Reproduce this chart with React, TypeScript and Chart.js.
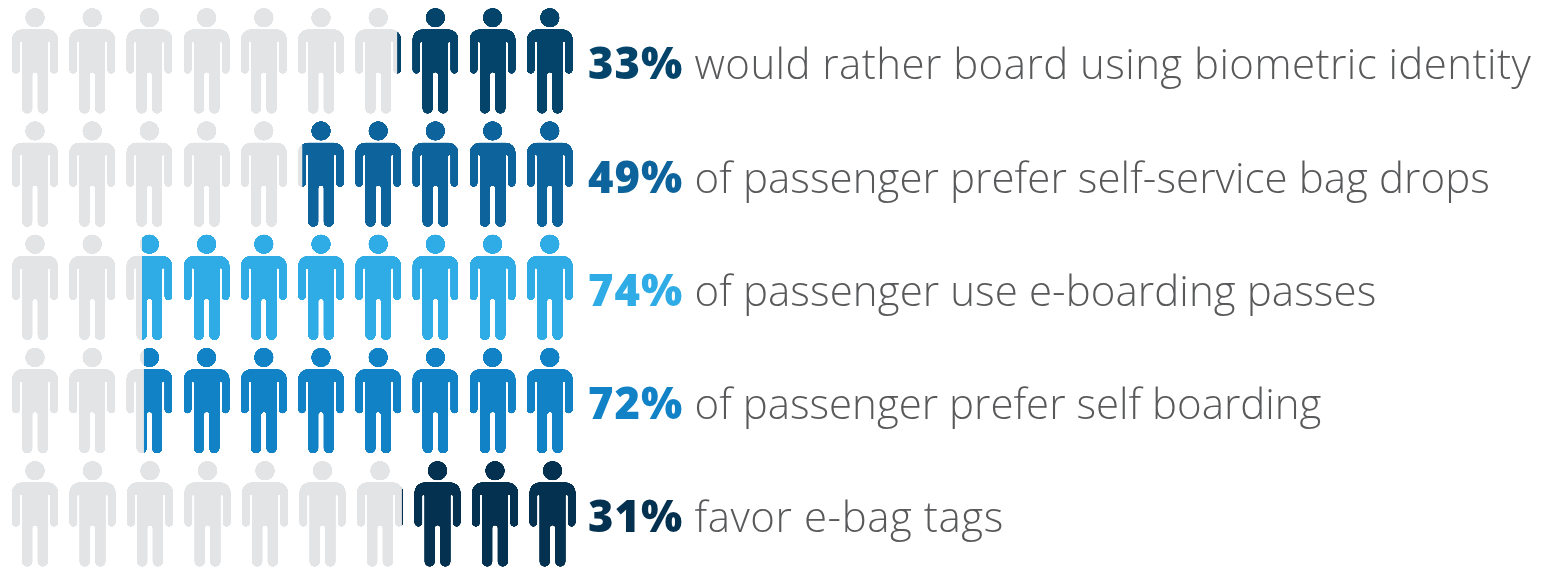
import React, { useEffect, useRef } from "react";
import { Chart, registerables } from "chart.js";

Chart.register(...registerables);

const percentLabels = ["33%", "49%", "74%", "72%", "31%"];
const captions = [
  "would rather board using biometric identity",
  "of passenger prefer self-service bag drops",
  "of passenger use e-boarding passes",
  "of passenger prefer self boarding",
  "favor e-bag tags",
];
const rows = [0, 1, 2, 3, 4];
// Width of the coloured part of each row of ten figures, in figures.
const filledFigures = [3.17, 4.83, 7.63, 7.6, 3.09];
const figureCount = 10;
const rowColors = ["#04446b", "#0d639b", "#2fabe5", "#1282c7", "#04314f"];
const emptyColor = "#e3e4e6";
const captionColor = "#58595b";

const PITCH_X = 57.2;
const PITCH_Y = 113.25;
const ORIGIN_X = 6.4;
const ORIGIN_Y = 61.5;
const W = 1545;
const H = 568;
const rowPitchX = [57.2, 57.2, 57.2, 57.2, 57.5];
const captionTracking = [0.44, 0.07, 0.09, 0, 0.56];

function figurePath(c: CanvasRenderingContext2D) {
  c.beginPath();
  c.arc(0, 17.7, 9.7, 0, Math.PI * 2);
  c.closePath();
  c.moveTo(-13, 29.3);
  c.lineTo(13, 29.3);
  c.arc(13, 39.3, 10, -Math.PI / 2, 0);
  c.lineTo(23, 69.7);
  c.arc(19, 69.7, 4, 0, Math.PI);
  c.lineTo(15, 43);
  c.arc(14, 43, 1, 0, Math.PI, true);
  c.lineTo(13, 108.4);
  c.arc(7.75, 108.4, 5.25, 0, Math.PI);
  c.lineTo(2.5, 75);
  c.arc(0, 75, 2.5, 0, Math.PI, true);
  c.lineTo(-2.5, 108.4);
  c.arc(-7.75, 108.4, 5.25, 0, Math.PI);
  c.lineTo(-13, 43);
  c.arc(-14, 43, 1, 0, Math.PI, true);
  c.lineTo(-15, 69.7);
  c.arc(-19, 69.7, 4, 0, Math.PI);
  c.lineTo(-23, 39.3);
  c.arc(-13, 39.3, 10, Math.PI, Math.PI * 1.5);
  c.closePath();
  c.fill();
}

const tiles = new Map<string, HTMLCanvasElement>();
function tile(color: string) {
  let t = tiles.get(color);
  if (!t) {
    t = document.createElement("canvas");
    t.width = 286;
    t.height = 453;
    const c = t.getContext("2d")!;
    c.scale(5, 4);
    c.translate(PITCH_X / 2, -(ORIGIN_Y - PITCH_Y / 2));
    c.fillStyle = color;
    figurePath(c);
    tiles.set(color, t);
  }
  return t;
}

function figurePattern(chart: any, row: number, color: string) {
  const c = chart.ctx as CanvasRenderingContext2D;
  const pattern = c.createPattern(tile(color), "repeat")!;
  const pitch = rowPitchX[row];
  // Keep the first figure of the row centred on half a cell of the axis.
  const x = chart.scales.x.getPixelForValue(0.5) - pitch / 2;
  const y = chart.scales.y.getPixelForValue(row) - PITCH_Y / 2;
  pattern.setTransform(new DOMMatrix([pitch / 286, 0, 0, 1 / 4, x, y]));
  return pattern;
}

const captionPlugin = {
  id: "captions",
  afterDatasetsDraw(chart: any) {
    const c = chart.ctx as CanvasRenderingContext2D;
    c.save();
    c.textBaseline = "alphabetic";
    c.textAlign = "left";
    rows.forEach((r) => {
      const y = chart.scales.y.getPixelForValue(r) + 17.8;
      (c as any).letterSpacing = "1px";
      c.font = '800 43.5px "Open Sans"';
      c.fillStyle = rowColors[r];
      c.fillText(percentLabels[r], chart.scales.x.getPixelForValue(10.17), y);
      (c as any).letterSpacing = captionTracking[r] + "px";
      c.font = '300 42px "Open Sans"';
      c.fillStyle = captionColor;
      c.fillText(captions[r], chart.scales.x.getPixelForValue(12.03), y);
    });
    c.restore();
  },
};

export default function App() {
  const ref = useRef<HTMLCanvasElement>(null);
  useEffect(() => {
    document.body.style.margin = "0";
    let chart: Chart | null = null;
    let alive = true;
    const build = () => {
      if (!alive) return;
      chart = new Chart(ref.current!, {
        type: "bar",
        plugins: [captionPlugin],
        data: {
          datasets: [
            {
              label: "Not",
              grouped: false,
              barThickness: PITCH_Y,
              data: rows.map((r) => ({ y: r, x: [0, figureCount - filledFigures[r]] })),
              backgroundColor: (c: any) => figurePattern(c.chart, c.dataIndex, emptyColor),
            },
            {
              label: "Share",
              grouped: false,
              barThickness: PITCH_Y,
              data: rows.map((r) => ({ y: r, x: [figureCount - filledFigures[r], figureCount + 0.08] })),
              backgroundColor: (c: any) => figurePattern(c.chart, c.dataIndex, rowColors[c.dataIndex]),
            },
          ] as any,
        },
        options: {
          indexAxis: "y",
          responsive: false,
          animation: false,
          layout: { padding: 0 },
          inflateAmount: 0,
          borderWidth: 0,
          plugins: { legend: { display: false }, tooltip: { enabled: false } },
          scales: {
            x: {
              type: "linear",
              display: false,
              offset: false,
              min: -ORIGIN_X / PITCH_X,
              max: (W - ORIGIN_X) / PITCH_X,
            },
            y: {
              type: "linear",
              display: false,
              offset: false,
              reverse: true,
              min: -ORIGIN_Y / PITCH_Y,
              max: (H - ORIGIN_Y) / PITCH_Y,
            },
          },
        } as any,
      });
    };
    const fonts = (document as any).fonts;
    Promise.all([fonts.load('800 43.5px "Open Sans"'), fonts.load('300 42px "Open Sans"')]).finally(build);
    return () => {
      alive = false;
      chart?.destroy();
    };
  }, []);
  return <canvas ref={ref} width={W} height={H} style={{ display: "block" }} />;
}
